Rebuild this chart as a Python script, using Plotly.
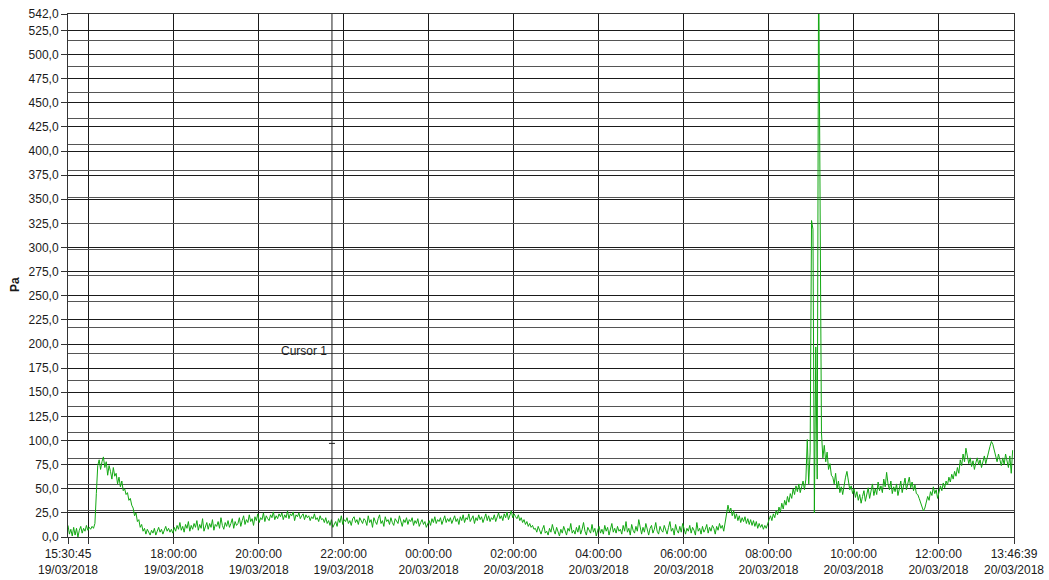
import pandas as pd
import plotly.graph_objects as go

# Differential pressure log, one reading every 2 minutes (Pa)
start_time = "2018-03-19 15:30:45"
end_time = "2018-03-20 13:46:39"
sample_step = "2min"

# 15:30 -> 00:29
pressure_evening = [
    12, 3, 8, 1, 10, 2, 9, 0, 7, 11, 4, 9, 6, 12, 7, 10, 8, 11, 9, 14, 45, 74, 80, 70, 78, 83, 72, 78, 64, 74,
    68, 60, 72, 63, 66, 55, 62, 52, 58, 48, 50, 44, 46, 38, 40, 33, 30, 22, 25, 16, 18, 10, 13, 6, 9, 3, 8, 5, 2, 7,
    4, 9, 2, 6, 10, 5, 8, 3, 7, 11, 6, 9, 5, 8, 4, 10, 6, 12, 8, 15, 7, 11, 5, 13, 9, 16, 6, 12, 8, 14,
    10, 17, 7, 13, 9, 19, 6, 12, 15, 8, 14, 10, 18, 7, 13, 11, 16, 9, 20, 12, 8, 15, 11, 17, 10, 14, 19, 9, 16, 12,
    14, 20, 11, 17, 22, 13, 18, 15, 23, 16, 19, 12, 21, 17, 24, 15, 20, 18, 25, 16, 22, 19, 17, 23, 20, 26, 18, 22, 19, 24,
    21, 25, 18, 23, 20, 27, 19, 24, 22, 26, 17, 23, 21, 25, 19, 22, 24, 18, 23, 20, 22, 17, 21, 19, 24, 18, 20, 16, 22, 18,
    19, 15, 20, 14, 17, 12, 18, 10, 14, 16, 11, 19, 15, 22, 13, 18, 16, 20, 14, 17, 12, 19, 21, 15, 18, 13, 20, 16, 14, 19,
    17, 12, 22, 15, 18, 10, 20, 16, 13, 19, 23, 14, 17, 11, 21, 16, 18, 13, 20, 15, 12, 19, 17, 14, 22, 16, 11, 18, 15, 20,
    13, 18, 16, 20, 12, 17, 14, 19, 11, 15, 18, 13, 16, 10, 14, 17, 12, 19, 15, 21, 14, 18, 16, 20, 13, 17, 22, 15, 19, 16,
]

# 00:30 -> 08:29
pressure_night = [
    20, 14, 18, 22, 16, 19, 13, 21, 17, 23, 15, 20, 18, 24, 16, 19, 22, 14, 20, 17, 23, 18, 21, 15, 19, 24, 17, 22, 16, 20,
    18, 23, 16, 21, 25, 19, 22, 17, 24, 20, 26, 18, 22, 27, 20, 24, 21, 19, 23, 17, 20, 15, 18, 13, 16, 11, 14, 10, 12, 8,
    9, 5, 11, 7, 3, 8, 12, 4, 6, 2, 9, 5, 13, 7, 3, 10, 6, 1, 8, 4, 11, 5, 2, 9, 6, 14, 4, 7, 3, 10,
    5, 12, 3, 8, 15, 6, 2, 10, 7, 4, 13, 5, 9, 1, 7, 11, 4, 8, 3, 12, 6, 10, 2, 7, 14, 5, 9, 4, 11, 6,
    8, 3, 12, 6, 16, 5, 9, 2, 13, 7, 4, 11, 6, 18, 8, 3, 10, 5, 14, 7, 2, 9, 12, 4, 8, 15, 6, 3, 11, 7,
    5, 12, 8, 3, 10, 16, 6, 9, 2, 13, 7, 4, 11, 5, 14, 8, 3, 9, 6, 12, 4, 10, 7, 2, 15, 6, 9, 3, 11, 5,
    8, 13, 4, 10, 6, 12, 9, 3, 11, 7, 14, 9, 12, 6, 15, 28, 33, 26, 30, 22, 27, 19, 24, 17, 22, 15, 20, 16, 21, 14,
    19, 13, 18, 12, 17, 11, 16, 9, 14, 10, 13, 8, 12, 9, 15, 18, 22, 17, 24, 20, 27, 23, 31, 26, 35, 29, 38, 33, 42, 36,
]

# 08:30 -> 13:44
pressure_morning = [
    45, 40, 50, 44, 53, 47, 55, 46, 52, 58, 49, 60, 101, 55, 88, 328, 319, 25, 197, 60, 600, 305, 108, 82, 95, 78, 88, 70, 76, 64,
    62, 55, 66, 50, 58, 46, 52, 44, 55, 62, 68, 57, 49, 53, 45, 50, 41, 47, 38, 44, 35, 42, 48, 37, 45, 51, 40, 47, 55, 43,
    50, 44, 57, 48, 53, 46, 60, 52, 67, 55, 49, 58, 45, 52, 47, 55, 43, 50, 58, 46, 53, 61, 49, 56, 62, 51, 57, 48, 54, 45,
    44, 40, 36, 32, 27, 30, 35, 42, 38, 47, 43, 52, 45, 49, 40, 46, 53, 48, 56, 51, 58, 54, 62, 57, 65, 60, 68, 63, 72, 66,
    80, 74, 86, 78, 92, 84, 76, 82, 73, 79, 70, 77, 82, 75, 80, 72, 78, 84, 76, 81, 88, 94, 99, 96, 90, 84, 78, 86, 80, 74,
    82, 75, 86, 78, 72, 84, 66, 90,
]

# Cursor marker
cursor_time = "2018-03-19 21:43:30"
cursor_level = 97
cursor_label = "Cursor 1"
cursor_label_level = 193

# Axis ticks
y_major_ticks = [0, 25, 50, 75, 100, 125, 150, 175, 200, 225, 250, 275, 300, 325, 350, 375, 400,
                 425, 450, 475, 500, 525, 542]
y_top = 542
y_minor_count = 20
x_tick_times = ["2018-03-19 15:30:45", "2018-03-19 16:00:00", "2018-03-19 18:00:00", "2018-03-19 20:00:00",
                "2018-03-19 22:00:00", "2018-03-20 00:00:00", "2018-03-20 02:00:00", "2018-03-20 04:00:00",
                "2018-03-20 06:00:00", "2018-03-20 08:00:00", "2018-03-20 10:00:00", "2018-03-20 12:00:00",
                "2018-03-20 13:46:39"]
x_tick_hidden = ["2018-03-19 16:00:00"]

pressure = pressure_evening + pressure_night + pressure_morning
times = pd.date_range(start=start_time, periods=len(pressure), freq=sample_step)

y_tick_text = [f"{v:.1f}".replace(".", ",") for v in y_major_ticks]
y_minor_ticks = [y_top * k / y_minor_count for k in range(y_minor_count + 1)]

x_tick_text = []
for t in x_tick_times:
    if t in x_tick_hidden:
        x_tick_text.append("")
    else:
        ts = pd.Timestamp(t)
        x_tick_text.append(ts.strftime("%H:%M:%S") + "<br>" + ts.strftime("%d/%m/%Y"))

font = dict(family="Liberation Sans, Arial, sans-serif", size=12, color="#1a1a1a")

fig = go.Figure()

# secondary grid (range / 20) drawn through an overlaid, label-free axis
fig.add_trace(go.Scatter(x=[times[0]], y=[None], yaxis="y2", showlegend=False, hoverinfo="skip"))

fig.add_trace(go.Scatter(
    x=times, y=pressure, mode="lines",
    line=dict(color="#12a812", width=1),
    showlegend=False,
))

fig.update_layout(
    width=1049, height=580,
    margin=dict(l=68, r=35, t=14, b=43, autoexpand=False),
    paper_bgcolor="white", plot_bgcolor="white",
    font=font,
    xaxis=dict(
        type="date", automargin=False,
        range=[start_time, end_time],
        tickmode="array", tickvals=x_tick_times, ticktext=x_tick_text,
        showgrid=True, gridcolor="#1a1a1a", gridwidth=1,
        ticks="outside", ticklen=6, tickcolor="#333", tickwidth=1,
        showline=True, linecolor="#333", linewidth=1, mirror=True,
        zeroline=False, tickfont=font,
    ),
    yaxis=dict(
        automargin=False,
        range=[0, y_top],
        tickmode="array", tickvals=y_major_ticks, ticktext=y_tick_text,
        showgrid=True, gridcolor="#1a1a1a", gridwidth=1,
        ticks="outside", ticklen=6, tickcolor="#333", tickwidth=1,
        showline=True, linecolor="#333", linewidth=1, mirror=True,
        zeroline=False, tickfont=font,
    ),
    yaxis2=dict(
        overlaying="y", range=[0, y_top], automargin=False,
        tickmode="array", tickvals=y_minor_ticks,
        showticklabels=False, ticks="",
        showgrid=True, gridcolor="#555555", gridwidth=1,
        zeroline=False, showline=False,
    ),
)

# Cursor line and its value marker
fig.add_shape(type="line", xref="x", yref="paper", x0=cursor_time, x1=cursor_time, y0=0, y1=1,
              line=dict(color="#222222", width=1))
fig.add_shape(type="line", xref="x", yref="y", xsizemode="pixel", xanchor=cursor_time,
              x0=-3, x1=3, y0=cursor_level, y1=cursor_level,
              line=dict(color="#222222", width=1))
fig.add_annotation(x=cursor_time, y=cursor_label_level, xref="x", yref="y", text=cursor_label,
                   showarrow=False, xanchor="right", xshift=-3,
                   font=dict(family="Liberation Sans, Arial, sans-serif", size=12, color="#222"))

# Axis title
fig.add_annotation(xref="paper", yref="paper", x=-53 / 946, y=0.482, text="<b>Pa</b>",
                   showarrow=False, textangle=-90, xanchor="center", yanchor="middle",
                   font=dict(family="Liberation Sans, Arial, sans-serif", size=12, color="#1a1a1a"))

fig.write_html("out.html")
